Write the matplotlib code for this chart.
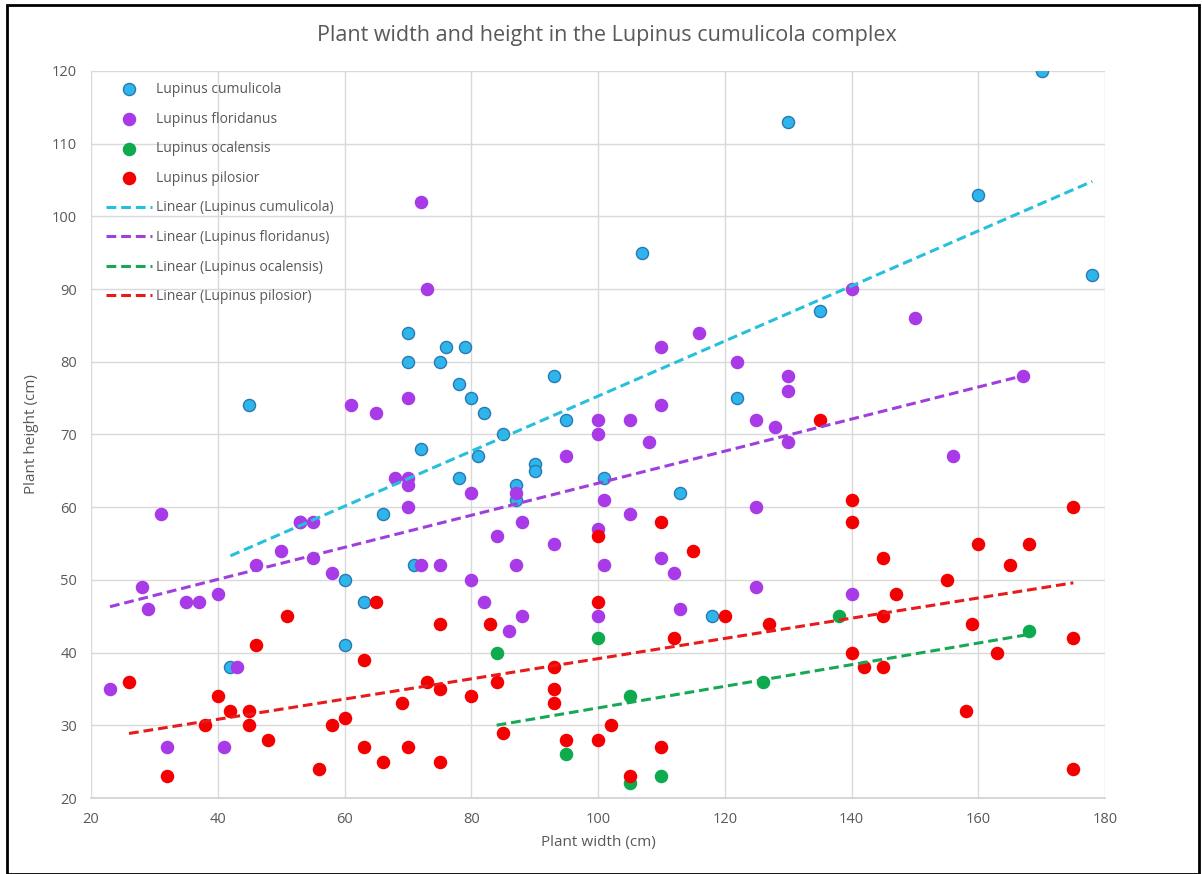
import numpy as np
import matplotlib
matplotlib.use("Agg")
import matplotlib.pyplot as plt
from matplotlib.patches import Rectangle

plt.rcParams['font.family'] = ['Open Sans', 'DejaVu Sans']

# ---------------- data ----------------
cumulicola_w = [45, 42, 53, 60, 60, 63, 66, 70, 70, 71, 72, 75, 76, 78, 79, 78, 80, 81, 82, 85,
                87, 87, 90, 90, 93, 95, 101, 107, 113, 118, 122, 130, 135, 160, 170, 178]
cumulicola_h = [74, 38, 58, 50, 41, 47, 59, 84, 80, 52, 68, 80, 82, 77, 82, 64, 75, 67, 73, 70,
                63, 61, 66, 65, 78, 72, 64, 95, 62, 45, 75, 113, 87, 103, 120, 92]

floridanus_w = [23, 28, 29, 31, 32, 35, 37, 40, 41, 43, 46, 50, 53, 55, 55, 58, 61, 65, 68, 70,
                70, 70, 70, 72, 72, 73, 75, 80, 80, 82, 84, 86, 87, 87, 88, 88, 93, 95, 100, 100,
                100, 100, 101, 101, 105, 105, 108, 110, 110, 110, 112, 113, 116, 122, 125, 125, 125, 128, 130, 130,
                130, 140, 140, 150, 156, 167]
floridanus_h = [35, 49, 46, 59, 27, 47, 47, 48, 27, 38, 52, 54, 58, 58, 53, 51, 74, 73, 64, 75,
                64, 63, 60, 102, 52, 90, 52, 62, 50, 47, 56, 43, 62, 52, 58, 45, 55, 67, 72, 70,
                57, 45, 61, 52, 72, 59, 69, 82, 74, 53, 51, 46, 84, 80, 72, 60, 49, 71, 78, 76,
                69, 90, 48, 86, 67, 78]

ocalensis_w = [84, 95, 100, 105, 105, 110, 126, 138, 168]
ocalensis_h = [40, 26, 42, 34, 22, 23, 36, 45, 43]

pilosior_w = [26, 32, 38, 40, 42, 45, 45, 46, 48, 51, 56, 58, 60, 63, 63, 65, 66, 69, 70, 73,
              75, 75, 75, 80, 83, 84, 85, 93, 93, 93, 95, 100, 100, 100, 102, 105, 110, 110, 112, 115,
              120, 127, 135, 140, 140, 140, 142, 145, 145, 145, 147, 155, 158, 159, 160, 163, 165, 168, 175, 175,
              175]
pilosior_h = [36, 23, 30, 34, 32, 32, 30, 41, 28, 45, 24, 30, 31, 39, 27, 47, 25, 33, 27, 36,
              44, 35, 25, 34, 44, 36, 29, 38, 35, 33, 28, 56, 47, 28, 30, 23, 58, 27, 42, 54,
              45, 44, 72, 61, 58, 40, 38, 53, 45, 38, 48, 50, 32, 44, 55, 40, 52, 55, 60, 42,
              24]

series = [
    ("Lupinus cumulicola", cumulicola_w, cumulicola_h, "#2DB5EC", "#2A78B4", "#27C0DC"),
    ("Lupinus floridanus", floridanus_w, floridanus_h, "#A83AE8", "#A83AE8", "#A040DC"),
    ("Lupinus ocalensis", ocalensis_w, ocalensis_h, "#0DAA4E", "#0DAA4E", "#18A855"),
    ("Lupinus pilosior", pilosior_w, pilosior_h, "#F40000", "#F40000", "#E81A1A"),
]

x_ticks = [20, 40, 60, 80, 100, 120, 140, 160, 180]
y_ticks = [20, 30, 40, 50, 60, 70, 80, 90, 100, 110, 120]

# ---------------- figure ----------------
fig = plt.figure(figsize=(12.02, 8.74), dpi=100)
ax = fig.add_axes([91/1202, 1-798/874, (1105-91)/1202, (798-71)/874])

scatter_handles = []
for name, w, h, fc, ec, lc in series:
    sc = ax.scatter(w, h, s=76, facecolor=fc, edgecolor=ec, linewidth=1.0, zorder=3, label=name)
    scatter_handles.append(sc)

line_handles = []
for name, w, h, fc, ec, lc in series:
    wa = np.array(w, dtype=float)
    ha = np.array(h, dtype=float)
    m, b = np.polyfit(wa, ha, 1)
    xs = np.array([wa.min(), wa.max()])
    ln, = ax.plot(xs, m * xs + b, linestyle=(0, (3.2, 1.6)), color=lc, linewidth=2.2,
                  zorder=4, label=f"Linear ({name})")
    line_handles.append(ln)

ax.set_xlim(20, 180)
ax.set_ylim(20, 120)
ax.set_xticks(x_ticks)
ax.set_yticks(y_ticks)
ax.grid(True, color="#d9d9d9", linewidth=1.0, zorder=0)
ax.set_axisbelow(True)
for s in ["top", "right", "left"]:
    ax.spines[s].set_visible(False)
ax.spines["bottom"].set_color("#d0d0d0")
ax.spines["bottom"].set_linewidth(1.2)
ax.tick_params(axis="both", length=0, labelsize=10.5, colors="#595959", pad=10)

ax.set_xlabel("Plant width (cm)", fontsize=11, color="#595959", labelpad=6)
ax.set_ylabel("Plant height (cm)", fontsize=11, color="#595959", labelpad=9)
fig.text(0.505, 1 - 35/874, "Plant width and height in the Lupinus cumulicola complex",
         ha="center", va="center", fontsize=15.5, color="#595959")

leg = ax.legend(handles=scatter_handles + line_handles, loc="upper left",
                bbox_to_anchor=(0.004, 1.0), frameon=False, fontsize=10,
                labelcolor="#595959", handlelength=3.3, handletextpad=0.3,
                labelspacing=1.05, borderaxespad=0.3, borderpad=0.5)

fig.patches.append(Rectangle((7/1202, 0), (1199-7)/1202, 1 - 5/874, transform=fig.transFigure,
                             fill=False, edgecolor="black", linewidth=2, zorder=10))

fig.savefig("out.png", dpi=100)
